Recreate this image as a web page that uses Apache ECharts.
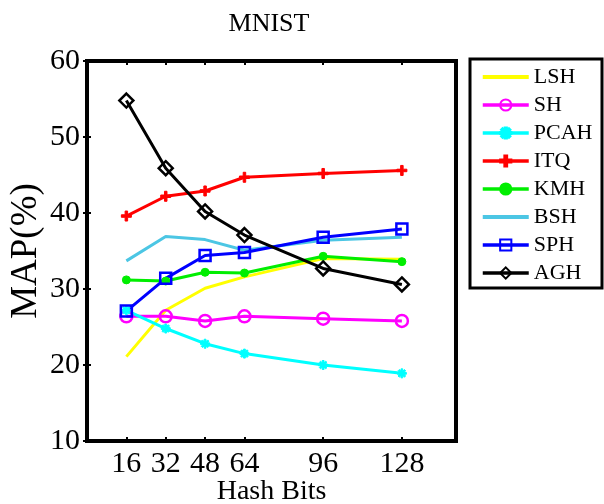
<!DOCTYPE html>
<html>
<head>
<meta charset="utf-8">
<script src="https://cdn.jsdelivr.net/npm/echarts@6/dist/echarts.min.js"></script>
<style>html,body{margin:0;padding:0;background:#fff}#c{width:604px;height:504px}</style>
</head>
<body>
<div id="c"></div>
<script>
const bits = [16, 32, 48, 64, 96, 128];
const xTicks = [16, 32, 48, 64, 96, 128];
const yTicks = [10, 20, 30, 40, 50, 60];
const LSH  = [21.1, 27.2, 30.1, 31.6, 34.0, 33.9];
const SH   = [26.4, 26.4, 25.8, 26.4, 26.1, 25.8];
const PCAH = [27.2, 24.8, 22.8, 21.5, 20.0, 18.9];
const ITQ  = [39.6, 42.2, 42.9, 44.7, 45.2, 45.6];
const KMH  = [31.2, 31.05, 32.2, 32.1, 34.3, 33.6];
const BSH  = [33.7, 36.9, 36.5, 35.1, 36.4, 36.8];
const SPH  = [27.1, 31.4, 34.4, 34.8, 36.8, 37.9];
const AGH  = [54.8, 45.9, 40.2, 37.1, 32.7, 30.6];
const names = ['LSH','SH','PCAH','ITQ','KMH','BSH','SPH','AGH'];

const FONT = 'Liberation Serif';
const pair = arr => bits.map((b, i) => [b, arr[i]]);

function mk(name, arr, color, symbol, size, hollow) {
  return {
    name, type: 'line', data: pair(arr),
    lineStyle: { color, width: 3 },
    itemStyle: hollow ? { color: 'rgba(0,0,0,0)', borderColor: color, borderWidth: 2.5 } : { color, borderColor: color, borderWidth: 1 },
    symbol: symbol || 'none', symbolSize: size || 0,
    showSymbol: !!symbol, animation: false, z: 2
  };
}
const plusPath = 'path://M3,0h2v3h3v2h-3v3h-2v-3h-3v-2h3z';
const starPath = 'path://M3.2,0h1.6v3.2h3.2v1.6h-3.2v3.2h-1.6v-3.2h-3.2v-1.6h3.2zM0.6,1.7l1.1,-1.1l5.7,5.7l-1.1,1.1zM6.3,0.6l1.1,1.1l-5.7,5.7l-1.1,-1.1z';
const lineIcon = 'path://M0,0h0.01v14h-0.01zM0,5h46v4h-46z';

const series = [
  mk('LSH', LSH, '#ffff00', null),
  mk('SH', SH, '#ff00ff', 'circle', 12, true),
  mk('PCAH', PCAH, '#00ffff', starPath, 9, false),
  mk('ITQ', ITQ, '#ff0000', plusPath, 10, false),
  mk('KMH', KMH, '#00ee00', 'circle', 8, false),
  mk('BSH', BSH, '#4cc6e4', null),
  mk('SPH', SPH, '#0000ff', 'rect', 11, true),
  mk('AGH', AGH, '#000000', 'diamond', 14, true)
];

const legendData = names.map(n => (n === 'LSH' || n === 'BSH')
  ? { name: n, icon: lineIcon, itemStyle: { borderWidth: 0 } }
  : { name: n });

const chart = echarts.init(document.getElementById('c'), null, { renderer: 'canvas' });
chart.setOption({
  animation: false,
  backgroundColor: '#fff',
  title: {
    text: 'MNIST', left: 264, top: 6, textAlign: 'center',
    textStyle: { fontFamily: FONT, fontSize: 26, fontWeight: 'normal', color: '#000' }
  },
  grid: { left: 87, right: 148, top: 61, bottom: 63, show: true, borderColor: '#000', borderWidth: 4, backgroundColor: '#fff', containLabel: false, outerBoundsMode: 'none' },
  legend: {
    orient: 'vertical', left: 481, top: 66, itemWidth: 46, itemHeight: 14, itemGap: 6.0,
    padding: 0,
    lineStyle: { width: 3.5 },
    textStyle: { fontFamily: FONT, fontSize: 22, color: '#000', padding: [0,0,0,0] },
    data: legendData
  },
  graphic: [{
    type: 'rect', shape: { x: 470, y: 59, width: 132, height: 229 },
    style: { fill: 'none', stroke: '#000', lineWidth: 3 }, z: 100
  }],
  xAxis: [{
    type: 'value', min: 0, max: 150,
    name: 'Hash Bits', nameLocation: 'middle', nameGap: 37, nameMoveOverlap: false,
    nameTextStyle: { fontFamily: FONT, fontSize: 28, color: '#000' },
    axisLine: { show: false },
    axisTick: { show: true, inside: true, length: 4, customValues: xTicks, lineStyle: { color: '#000', width: 2 } },
    axisLabel: { show: true, customValues: xTicks, margin: 8, fontFamily: FONT, fontSize: 30, color: '#000' },
    splitLine: { show: false }
  }, {
    type: 'value', min: 0, max: 150, position: 'top',
    axisLine: { show: false },
    axisTick: { show: true, inside: true, length: 4, customValues: xTicks, lineStyle: { color: '#000', width: 2 } },
    axisLabel: { show: false }, splitLine: { show: false }
  }],
  yAxis: [{
    type: 'value', min: 10, max: 60, interval: 10,
    name: 'MAP(%)', nameLocation: 'middle', nameGap: 42, nameMoveOverlap: false,
    nameTextStyle: { fontFamily: FONT, fontSize: 37, color: '#000' },
    axisLine: { show: false },
    axisTick: { show: true, inside: true, length: 4, lineStyle: { color: '#000', width: 2 } },
    axisLabel: { show: true, margin: 7, fontFamily: FONT, fontSize: 30, color: '#000' },
    splitLine: { show: false }
  }, {
    type: 'value', min: 10, max: 60, interval: 10, position: 'right',
    axisLine: { show: false },
    axisTick: { show: true, inside: true, length: 4, lineStyle: { color: '#000', width: 2 } },
    axisLabel: { show: false }, splitLine: { show: false }
  }],
  series
});
</script>
</body>
</html>
